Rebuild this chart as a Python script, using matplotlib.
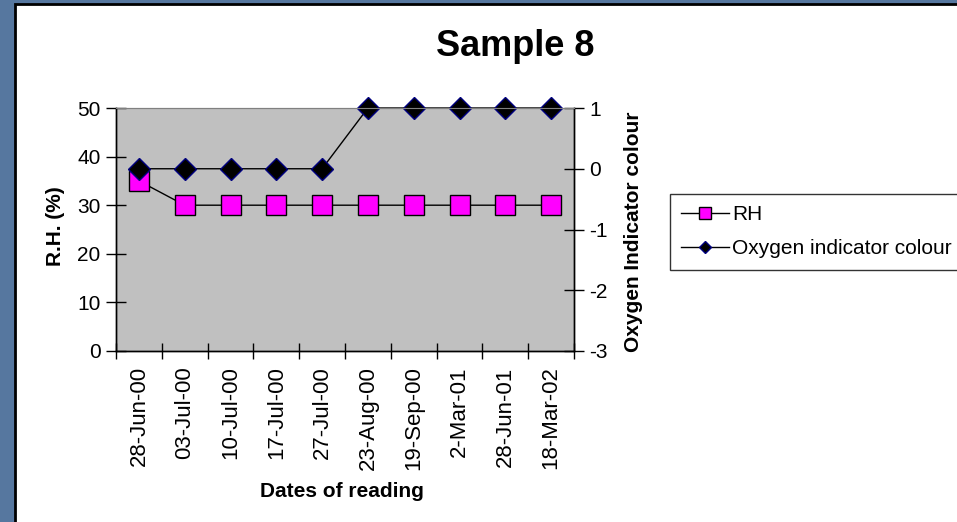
import numpy as np
import matplotlib.pyplot as plt
from matplotlib.patches import Rectangle
from matplotlib.lines import Line2D

plt.rcParams['font.family'] = ['Liberation Sans', 'DejaVu Sans']
plt.rcParams['axes.unicode_minus'] = False

dates = ['28-Jun-00', '03-Jul-00', '10-Jul-00', '17-Jul-00', '27-Jul-00',
         '23-Aug-00', '19-Sep-00', '2-Mar-01', '28-Jun-01', '18-Mar-02']
rh = [35, 30, 30, 30, 30, 30, 30, 30, 30, 30]
oxygen = [0, 0, 0, 0, 0, 1, 1, 1, 1, 1]
rh_ticks = [0, 10, 20, 30, 40, 50]
ox_ticks = [-3, -2, -1, 0, 1]

fig = plt.figure(figsize=(9.57, 5.22), dpi=100)
fig.patch.set_facecolor('#56779f')
# white slide panel behind the chart
panel = Rectangle((15/957, -0.1), 1.2, 1.1 - 4/522,
                  transform=fig.transFigure, facecolor='white',
                  edgecolor='black', linewidth=2, zorder=-10)
fig.patches.append(panel)

ax = fig.add_axes([116/957, 1 - 351/522, 458/957, 243/522])
ax.set_facecolor('#c0c0c0')
x = np.arange(len(dates))

ax.plot(x, rh, color='black', linewidth=1, marker='s', markersize=15,
        markerfacecolor='#ff00ff', markeredgecolor='black', markeredgewidth=1,
        clip_on=False)
ax.set_xlim(-0.5, len(dates) - 0.5)
ax.set_ylim(0, 50)
ax.set_yticks(rh_ticks)
ax.set_xticks(x)
ax.set_xticklabels(dates, rotation=90)
ax.set_xticks(np.arange(-0.5, len(dates), 1), minor=True)
ax.tick_params(axis='x', which='major', length=0, pad=11, labelsize=16)
ax.tick_params(axis='x', which='minor', direction='inout', length=12, width=1)
ax.tick_params(axis='y', direction='inout', length=14, width=1, pad=4, labelsize=15)

ax2 = ax.twinx()
ax2.plot(x, oxygen, color='black', linewidth=1, marker='D', markersize=11.5,
         markerfacecolor='black', markeredgecolor='#000080', markeredgewidth=1,
         clip_on=False)
ax2.set_ylim(-3, 1)
ax2.set_yticks(ox_ticks)
ax2.tick_params(axis='y', direction='inout', length=14, width=1, pad=4, labelsize=15)

for a in (ax, ax2):
    a.spines['top'].set_color('#808080')
    for s in ('left', 'right', 'bottom'):
        a.spines[s].set_color('black')
        a.spines[s].set_linewidth(1)

ax.set_xlabel('Dates of reading', fontsize=15, fontweight='bold')
ax.xaxis.set_label_coords(0.493, -0.58)
ax.xaxis.label.set_va('center')
ax.set_ylabel('R.H. (%)', fontsize=15, fontweight='bold')
ax.yaxis.set_label_coords(-0.133, 0.514)
ax.yaxis.label.set_va('center')
ax2.set_ylabel('Oxygen Indicator colour', fontsize=15, fontweight='bold')
ax2.yaxis.set_label_coords(1.13, 0.49)
ax2.yaxis.label.set_va('center')

fig.text(515/957, 1 - 47/522, 'Sample 8', fontsize=26, fontweight='bold',
         ha='center', va='center')

handles = [
    Line2D([], [], color='black', linewidth=1, marker='s', markersize=8,
           markerfacecolor='#ff00ff', markeredgecolor='black'),
    Line2D([], [], color='black', linewidth=1, marker='D', markersize=6.5,
           markerfacecolor='black', markeredgecolor='#000080'),
]
leg = fig.legend(handles, ['RH', 'Oxygen indicator colour'], loc='upper left',
                 bbox_to_anchor=(670/957, 1 - 194/522), borderaxespad=0,
                 fontsize=15, frameon=True, fancybox=False, handlelength=2.3,
                 handletextpad=0.15, borderpad=0.55, labelspacing=0.7)
leg.get_frame().set_edgecolor('black')
leg.get_frame().set_linewidth(1)

fig.savefig('out.png', dpi=100, facecolor=fig.get_facecolor())
